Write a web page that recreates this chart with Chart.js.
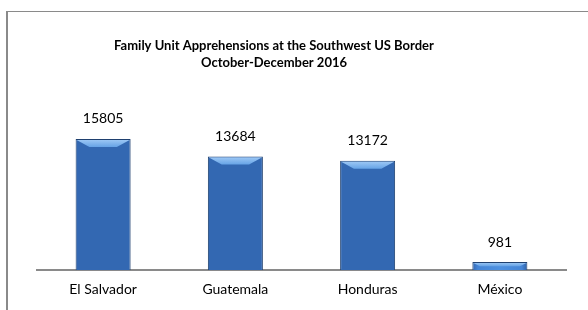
<!DOCTYPE html>
<html>
<head>
<meta charset="utf-8">
<script src="https://cdn.jsdelivr.net/npm/chart.js@4"></script>
<style>
  html, body { margin: 0; padding: 0; background: #fff; }
  #wrap { position: relative; width: 588px; height: 310px; }
  #frame { position: absolute; left: 6px; top: 11px; width: 600px; height: 320px;
           border-left: 2px solid #8a8a8a; border-top: 1px solid #8a8a8a; }
  canvas { position: absolute; left: 0; top: 0; }
</style>
</head>
<body>
<div id="wrap">
  <div id="frame"></div>
  <canvas id="chart" width="588" height="310"></canvas>
</div>
<script>
const countries = ['El Salvador', 'Guatemala', 'Honduras', 'México']
const apprehensions = [15805, 13684, 13172, 981]
const titleLines = ['Family Unit Apprehensions at the Southwest US Border', 'October-December 2016']

const FONT = 'Lato, "Open Sans", sans-serif'
const TITLE_X = 274   // title sits a bit left of the canvas centre in the original

// bars get a sideways gradient + a lighter bevel on top, like the office chart
const bevelBars = {
    id: 'bevelBars',
    beforeDatasetsDraw(chart) {
        const ctx = chart.ctx;
        chart.getDatasetMeta(0).data.forEach(bar => {
            const left = bar.x - bar.width / 2;
            const right = bar.x + bar.width / 2;
            const g = ctx.createLinearGradient(left, 0, right, 0);
            g.addColorStop(0, '#3368b2');
            g.addColorStop(0.1, '#4585d6');
            g.addColorStop(0.5, '#4d90e0');
            g.addColorStop(0.9, '#4585d6');
            g.addColorStop(1, '#2e61a6');
            bar.options.backgroundColor = g;
        });
    },
    afterDatasetsDraw(chart) {
        const ctx = chart.ctx;
        chart.getDatasetMeta(0).data.forEach(bar => {
            const left = bar.x - bar.width / 2;
            const right = bar.x + bar.width / 2;
            const top = bar.y;
            const h = Math.min(8, (bar.base - bar.y) / 2);
            ctx.save();
            const g = ctx.createLinearGradient(0, top, 0, top + h);
            g.addColorStop(0, '#a2cbf6');
            g.addColorStop(1, '#66a3e6');
            ctx.fillStyle = g;
            ctx.beginPath();
            ctx.moveTo(left + 1, top + 1);
            ctx.lineTo(right - 1, top + 1);
            ctx.lineTo(right - 1 - h * 1.6, top + h);
            ctx.lineTo(left + 1 + h * 1.6, top + h);
            ctx.closePath();
            ctx.fill();
            ctx.restore();
        });
    },
    afterDraw(chart) {
        const ctx = chart.ctx;
        ctx.save();
        ctx.fillStyle = '#000';
        ctx.textAlign = 'center';
        ctx.textBaseline = 'middle';
        // value labels above the bars
        ctx.font = '14px ' + FONT;
        chart.getDatasetMeta(0).data.forEach((bar, i) => {
            ctx.fillText(String(apprehensions[i]), bar.x, bar.y - 20);
        });
        // title, drawn here so it can be off-centre
        ctx.font = 'bold 13px ' + FONT;
        titleLines.forEach((t, i) => ctx.fillText(t, TITLE_X, 46 + i * 17));
        ctx.restore();
    }
}

new Chart(document.getElementById('chart'), {
    type: 'bar',
    data: {
        labels: countries,
        datasets: [{
            data: apprehensions,
            backgroundColor: '#4585d6',
            borderColor: '#1f406f',
            borderWidth: 1,
            barPercentage: 0.416,
            categoryPercentage: 1
        }]
    },
    plugins: [bevelBars],
    options: {
        responsive: false,
        animation: false,
        layout: { padding: { left: 37, right: 22, top: 0, bottom: 1 } },
        plugins: {
            legend: { display: false },
            tooltip: { enabled: false },
            // kept only to reserve the space at the top; text drawn by the plugin
            title: {
                display: true,
                text: titleLines,
                color: 'rgba(0,0,0,0)',
                font: { family: FONT, size: 12.7, weight: 'bold', lineHeight: 1.32 },
                padding: { top: 38, bottom: 16 }
            }
        },
        scales: {
            x: {
                grid: { display: false, drawTicks: false },
                border: { display: true, color: '#8a8a8a', width: 2 },
                ticks: { color: '#000', padding: 11, font: { family: FONT, size: 14 } }
            },
            y: {
                display: false,
                min: 0,
                max: 22000
            }
        }
    }
})
</script>
</body>
</html>
